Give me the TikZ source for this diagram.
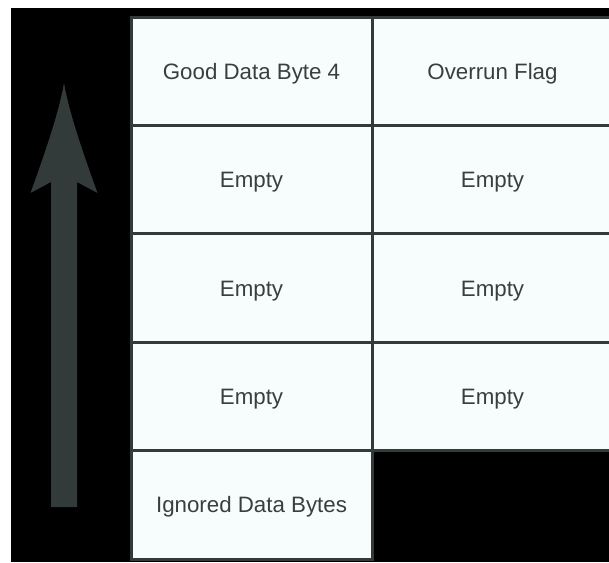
\documentclass[tikz,border=0pt]{standalone}
\usepackage{fontspec}
\setmainfont{Liberation Sans}
\usetikzlibrary{positioning}
\definecolor{linegray}{RGB}{51,58,58}
\definecolor{cellfill}{RGB}{247,253,253}
\definecolor{textgray}{RGB}{58,62,64}

\begin{document}
\begin{tikzpicture}[
        x=1pt, y=-1pt,
        cell/.style={rectangle, draw=linegray, line width=3pt, fill=cellfill, outer sep=0pt,
                     minimum width=241pt, minimum height=108.4pt, text=textgray,
                     text height=16pt, text depth=0pt,
                     font=\fontsize{22.3}{26}\selectfont},
        node distance=0pt and 0pt
        ]

        \useasboundingbox (0,0) rectangle (609,562);
        \clip (0,0) rectangle (609,562);
        \fill[black] (11,8) rectangle (609,562);

        % Nodes
        \node (byte4) [cell] at (251.5,71.2) {Good Data Byte 4};
        \node (flag) [cell, right=of byte4] {Overrun Flag};
        \node (emptyA) [cell, below=of byte4] {Empty};
        \node (emptyB) [cell, below=of flag] {Empty};
        \node (emptyC) [cell, below=of emptyA] {Empty};
        \node (emptyD) [cell, below=of emptyB] {Empty};
        \node (emptyE) [cell, below=of emptyC] {Empty};
        \node (emptyF) [cell, below=of emptyD] {Empty};
        \node (ignored) [cell, below=of emptyE] {Ignored Data Bytes};

        % Big arrow
        \coordinate (tail) at (64,507);
        \coordinate (tip) at (64,83);
        \fill[linegray] (tail) ++(-13,0) -- (51,182) -- (30.5,193)
            .. controls (46,150) and (59,112) .. (tip)
            .. controls (69,112) and (82,150) .. (97.5,193)
            -- (77,182) -- (77,507) -- cycle;

    \end{tikzpicture}
\end{document}
